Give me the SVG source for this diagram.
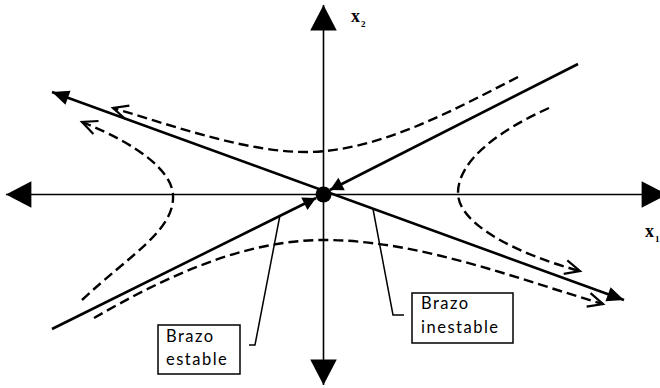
<svg xmlns="http://www.w3.org/2000/svg" width="660" height="388" viewBox="0 0 660 388">
  <defs>
    <style>
      .axis { stroke: #000; stroke-width: 1.6; fill: none; }
      .arm { stroke: #000; stroke-width: 2.6; fill: none; }
      .traj { stroke: #000; stroke-width: 2.4; fill: none; stroke-dasharray: 10 5; }
      .leader { stroke: #000; stroke-width: 1.5; fill: none; }
      .box { stroke: #000; stroke-width: 1.5; fill: #fff; }
      .lbl { font-family: Lato, "Open Sans", sans-serif; font-size: 16.5px; letter-spacing: 1.5px; fill: #000; }
      .ax { font-family: "Liberation Serif", serif; font-weight: bold; fill: #000; }
    </style>
    <marker id="axArrow" markerUnits="userSpaceOnUse" markerWidth="30" markerHeight="30" viewBox="-24 -13 26 26" refX="0" refY="0" orient="auto-start-reverse" overflow="visible">
      <path d="M0,0 L-22,-11.5 L-22,11.5 Z" fill="#000"/>
    </marker>
    <marker id="armArrow" markerUnits="userSpaceOnUse" markerWidth="20" markerHeight="20" viewBox="-18 -9 20 18" refX="0" refY="0" orient="auto-start-reverse" overflow="visible">
      <path d="M0,0 L-17,-7.5 L-17,7.5 Z" fill="#000"/>
    </marker>
    <marker id="inArrow" markerUnits="userSpaceOnUse" markerWidth="16" markerHeight="16" viewBox="-14 -8 16 16" refX="0" refY="0" orient="auto" overflow="visible">
      <path d="M0,0 L-13,-7 L-13,7 Z" fill="#000"/>
    </marker>
    <marker id="openArrow" markerUnits="userSpaceOnUse" markerWidth="20" markerHeight="20" viewBox="-18 -9 20 18" refX="0" refY="0" orient="auto" overflow="visible">
      <path d="M-15,-7 L0,0 L-15,7" fill="none" stroke="#000" stroke-width="2.2" stroke-dasharray="none"/>
    </marker>
  </defs>

  <g id="connectors">
    <line id="axis-x1" class="axis" x1="6" y1="194.5" x2="667" y2="194.5" marker-start="url(#axArrow)" marker-end="url(#axArrow)"/>
    <line id="axis-x2" class="axis" x1="323.5" y1="5" x2="323.5" y2="385" marker-start="url(#axArrow)" marker-end="url(#axArrow)"/>
    <line id="unstable-arm" class="arm" x1="52" y1="92" x2="624" y2="300" marker-start="url(#armArrow)" marker-end="url(#armArrow)"/>
    <line id="stable-arm-low" class="arm" x1="52" y1="329" x2="316" y2="198" marker-end="url(#inArrow)"/>
    <line id="stable-arm-high" class="arm" x1="578" y1="64" x2="330" y2="190" marker-end="url(#inArrow)"/>
    <path id="traj-top" class="traj" d="M518,77 C450,112 380,150 310,152 C250,153 180,128 113,108" marker-end="url(#openArrow)"/>
    <path id="traj-left" class="traj" d="M82,300 C130,255 175,230 173,195 C172,172 140,145 82,122" marker-end="url(#openArrow)"/>
    <path id="traj-right" class="traj" d="M549,108 C500,130 458,160 458,193 C458,225 520,255 580,271" marker-end="url(#openArrow)"/>
    <path id="traj-bottom" class="traj" d="M94,318 C160,280 240,240 324,240 C420,240 520,280 603,304" marker-end="url(#openArrow)"/>
    <polyline id="leader-stable" class="leader" points="249,345 255,345 280,215"/>
    <polyline id="leader-unstable" class="leader" points="373,209 393,315 404,315"/>
  </g>

  <g id="origin">
    <circle cx="323.5" cy="194.5" r="8" fill="#000"/>
  </g>

  <g id="label-x2">
    <text class="ax" x="351" y="22" font-size="18">x</text>
    <text class="ax" x="361" y="27" font-size="9">2</text>
  </g>
  <g id="label-x1">
    <text class="ax" x="645" y="237" font-size="18">x</text>
    <text class="ax" x="655" y="242" font-size="9">1</text>
  </g>

  <g id="box-stable">
    <rect class="box" x="158" y="325" width="82" height="49"/>
    <text class="lbl" x="166" y="342">Brazo</text>
    <text class="lbl" x="166" y="365">estable</text>
  </g>
  <g id="box-unstable">
    <rect class="box" x="412" y="293" width="101" height="50"/>
    <text class="lbl" x="421" y="309">Brazo</text>
    <text class="lbl" x="421" y="333">inestable</text>
  </g>
</svg>
